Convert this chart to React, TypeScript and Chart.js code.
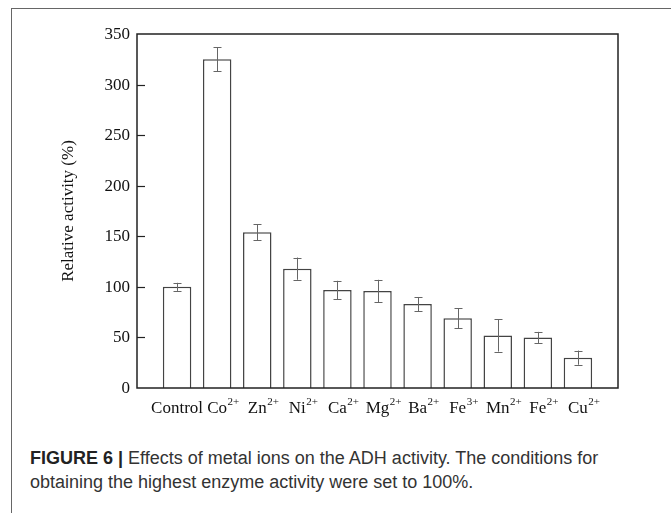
import React, { useEffect, useRef } from "react";
import { Chart, registerables } from "chart.js";

Chart.register(...registerables);

const ionNames = ["Control", "Co", "Zn", "Ni", "Ca", "Mg", "Ba", "Fe", "Mn", "Fe", "Cu"];
const ionCharges = ["", "2+", "2+", "2+", "2+", "2+", "2+", "3+", "2+", "2+", "2+"];
const activityValues = [100, 325, 154, 118, 97, 96, 83, 69, 52, 50, 30];
const activityErrors = [4, 12, 8, 11, 9, 11, 7, 10, 16, 5.5, 7];
const yTicks = [0, 50, 100, 150, 200, 250, 300, 350];
const yTitle = "Relative activity (%)";

const SERIF = "'Liberation Serif', 'Times New Roman', serif";

const decorPlugin = {
  id: "decor",
  afterDatasetsDraw(chart: any) {
    const { ctx, chartArea, scales } = chart;
    const xs = scales.x;
    const ys = scales.y;
    ctx.save();
    // error bars
    ctx.strokeStyle = "#666";
    ctx.lineWidth = 1;
    activityValues.forEach((v, i) => {
      const x = Math.round(xs.getPixelForValue(i)) + 0.5;
      const yTop = ys.getPixelForValue(v + activityErrors[i]);
      const yBot = ys.getPixelForValue(v - activityErrors[i]);
      ctx.beginPath();
      ctx.moveTo(x, yTop);
      ctx.lineTo(x, yBot);
      ctx.moveTo(x - 4, Math.round(yTop) + 0.5);
      ctx.lineTo(x + 4, Math.round(yTop) + 0.5);
      ctx.moveTo(x - 4, Math.round(yBot) + 0.5);
      ctx.lineTo(x + 4, Math.round(yBot) + 0.5);
      ctx.stroke();
    });
    // plot frame
    ctx.strokeStyle = "#222";
    ctx.lineWidth = 1.5;
    ctx.strokeRect(chartArea.left, chartArea.top, chartArea.right - chartArea.left, chartArea.bottom - chartArea.top);
    // inner y ticks + labels
    ctx.lineWidth = 1.2;
    ctx.fillStyle = "#111";
    ctx.font = `17px ${SERIF}`;
    ctx.textAlign = "right";
    ctx.textBaseline = "middle";
    yTicks.forEach((t) => {
      const y = Math.round(ys.getPixelForValue(t)) + 0.5;
      if (t !== 0 && t !== 350) {
        ctx.beginPath();
        ctx.moveTo(chartArea.left, y);
        ctx.lineTo(chartArea.left + 8, y);
        ctx.stroke();
      }
      ctx.fillText(String(t), chartArea.left - 7, y);
    });
    // y title
    ctx.save();
    ctx.translate(69, (chartArea.top + chartArea.bottom) / 2);
    ctx.rotate(-Math.PI / 2);
    ctx.textAlign = "center";
    ctx.textBaseline = "middle";
    ctx.fillText(yTitle, 0, 0);
    ctx.restore();
    // x labels with superscript charges
    ctx.textBaseline = "alphabetic";
    ctx.textAlign = "left";
    ionNames.forEach((name, i) => {
      const x = xs.getPixelForValue(i);
      ctx.font = `17px ${SERIF}`;
      const w = ctx.measureText(name).width;
      const baseY = chartArea.bottom + 25;
      ctx.fillText(name, x - w / 2, baseY);
      if (ionCharges[i]) {
        ctx.font = `11px ${SERIF}`;
        ctx.fillText(ionCharges[i], x + w / 2 + 0.5, baseY - 8);
      }
    });
    ctx.restore();
  },
};

function ChartCanvas() {
  const ref = useRef<HTMLCanvasElement | null>(null);
  useEffect(() => {
    if (!ref.current) return;
    const chart = new Chart(ref.current, {
      type: "bar",
      data: {
        datasets: [
          {
            data: activityValues.map((v, i) => ({ x: i, y: v })),
            backgroundColor: "#ffffff",
            borderColor: "#444",
            borderWidth: 1.5,
            barPercentage: 0.71,
            categoryPercentage: 1.0,
          },
        ],
      },
      options: {
        responsive: false,
        animation: false,
        layout: { padding: { left: 60, top: 34, right: 53, bottom: 0 } },
        plugins: { legend: { display: false }, tooltip: { enabled: false } },
        scales: {
          x: {
            type: "linear",
            min: -1,
            max: 11,
            offset: false,
            grid: { display: false },
            border: { display: false },
            ticks: { display: false },
            afterFit: (s: any) => {
              s.height = 42;
            },
          },
          y: {
            min: 0,
            max: 350,
            grid: { display: false },
            border: { display: false },
            ticks: { display: false, stepSize: 50 },
            afterFit: (s: any) => {
              s.width = 77;
            },
          },
        },
      },
      plugins: [decorPlugin],
    });
    return () => chart.destroy();
  }, []);
  return <canvas ref={ref} width={671} height={430} style={{ position: "absolute", left: 0, top: 0 }} />;
}

export default function App() {
  return (
    <div
      style={{
        position: "fixed",
        left: 0,
        top: 0,
        width: 671,
        height: 513,
        overflow: "hidden",
        background: "#fff",
      }}
    >
      <div
        style={{
          position: "absolute",
          left: 11,
          top: 8,
          width: 700,
          height: 600,
          border: "1px solid #666",
        }}
      />
      <ChartCanvas />
      <div
        style={{
          position: "absolute",
          left: 30,
          top: 446,
          width: 636,
          fontFamily: "'Liberation Sans', Arial, sans-serif",
          fontSize: 18,
          lineHeight: "24px",
          color: "#333",
          whiteSpace: "nowrap",
        }}
      >
        <span style={{ fontWeight: "bold", color: "#222" }}>FIGURE 6 |</span> Effects of metal ions on the ADH activity. The
        conditions for
        <br />
        obtaining the highest enzyme activity were set to 100%.
      </div>
    </div>
  );
}
